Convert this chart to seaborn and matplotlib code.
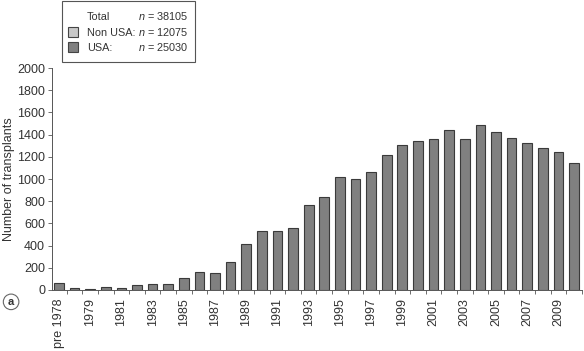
import matplotlib
matplotlib.use("Agg")
import matplotlib.pyplot as plt
import matplotlib.patches as mpatches
import seaborn as sns
import pandas as pd

years = ['pre 1978'] + [str(y) for y in range(1978, 2011)]
transplants = [65, 15, 10, 24, 15, 42, 51, 51, 107, 164,
               149, 251, 418, 534, 534, 555, 770, 839, 1020, 1003,
               1066, 1218, 1307, 1346, 1361, 1441, 1358, 1486, 1424, 1373,
               1325, 1283, 1244, 1146]
legend_names = ['Total', 'Non USA:', 'USA:']
legend_counts = ['38105', '12075', '25030']
legend_colors = [None, '#c8c8c8', '#808080']

df = pd.DataFrame({'Year': years, 'Transplants': transplants})

sns.set_style('ticks')
plt.rcParams['font.family'] = ['Liberation Sans', 'DejaVu Sans']
plt.rcParams['mathtext.fontset'] = 'custom'
plt.rcParams['mathtext.rm'] = 'Liberation Sans'
plt.rcParams['mathtext.it'] = 'Liberation Sans:italic'
txt = '#333333'
W, H = 584, 351

fig = plt.figure(figsize=(5.84, 3.51), dpi=100)
ax = fig.add_axes([0.089, 0.174, 0.908, 0.632])

sns.barplot(data=df, x='Year', y='Transplants', color='#808080',
            edgecolor='#3a3a3a', linewidth=0.8, width=0.62, saturation=1, ax=ax)

ax.set_ylim(0, 2000)
ax.set_yticks(range(0, 2001, 200))
ax.set_xlim(-0.45, len(years) - 0.47)
ax.set_ylabel('Number of transplants', fontsize=9, color=txt)
ax.yaxis.set_label_coords(-0.069, 0.5)
ax.set_xlabel('')

ax.set_xticks(range(0, len(years), 2))
ax.set_xticklabels(years[::2], rotation=90, fontsize=9, color=txt)
ax.set_xticks([i - 0.5 for i in range(1, len(years) + 1)], minor=True)
ax.tick_params(axis='x', which='major', length=0, pad=6)
ax.tick_params(axis='x', which='minor', length=3, width=0.6, color='#555555')
ax.tick_params(axis='y', labelsize=9, labelcolor=txt, length=3, width=0.6, color='#555555', pad=2)

sns.despine(ax=ax)
for s in ['left', 'bottom']:
    ax.spines[s].set_linewidth(0.7)
    ax.spines[s].set_color('#555555')

# legend box drawn by hand so the "n = ..." column lines up
fig.patches.append(mpatches.Rectangle((62 / W, 1 - 62 / H), 133 / W, 61 / H,
                                      transform=fig.transFigure, facecolor='white',
                                      edgecolor='#555555', linewidth=0.8))
rows_y = [16, 32, 47]
for name, count, col, ry in zip(legend_names, legend_counts, legend_colors, rows_y):
    yb = 1 - (ry + 4) / H
    if col is not None:
        fig.patches.append(mpatches.Rectangle((68 / W, 1 - (ry + 5) / H), 10 / W, 10 / H,
                                              transform=fig.transFigure, facecolor=col,
                                              edgecolor='#444444', linewidth=0.8))
    fig.text(87 / W, yb, name, fontsize=7.8, color=txt, va='baseline', ha='left')
    fig.text(188 / W, yb, '$n$ = ' + count, fontsize=7.8, color=txt, va='baseline', ha='right')

fig.text(0.019, 0.14, 'a', fontsize=8, fontweight='bold', color=txt, ha='center', va='center',
         bbox=dict(boxstyle='circle,pad=0.25', facecolor='white', edgecolor='#666666', linewidth=0.8))

fig.savefig('out.png', dpi=100)
